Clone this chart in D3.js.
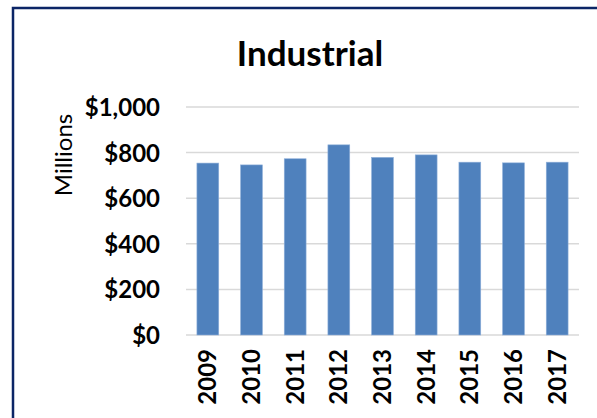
<!DOCTYPE html>
<meta charset="utf-8">
<script src="https://d3js.org/d3.v7.min.js"></script>
<style>
  body { margin: 0; background: #fff; }
  text { font-family: Lato, "Open Sans", sans-serif; fill: #000; }
</style>
<div id="chart"></div>
<script>
var years = ["2009", "2010", "2011", "2012", "2013", "2014", "2015", "2016", "2017"];
var values = [754, 746, 773, 834, 779, 790, 758, 755, 758];
var yTicks = [0, 200, 400, 600, 800, 1000];

var W = 597, H = 418;
var margin = {top: 107, right: 18, bottom: 83, left: 186};
var width = W - margin.left - margin.right,
    height = H - margin.top - margin.bottom;

var svg = d3.select("#chart").append("svg")
  .attr("width", W)
  .attr("height", H);

// frame (left + top only visible)
svg.append("path")
  .attr("d", "M13,418 V8 H597")
  .attr("fill", "none")
  .attr("stroke", "#0b2566")
  .attr("stroke-width", 2.5);

var g = svg.append("g")
  .attr("transform", "translate(" + margin.left + "," + margin.top + ")");

var x = d3.scaleBand().domain(years).range([0, width]).paddingInner(0.5).paddingOuter(0.25);
var y = d3.scaleLinear().domain([0, 1000]).range([height, 0]);

// gridlines
g.selectAll(".grid")
  .data(yTicks)
  .enter().append("line")
    .attr("x1", 0)
    .attr("x2", width)
    .attr("y1", function(d) { return y(d); })
    .attr("y2", function(d) { return y(d); })
    .attr("stroke", "#d9d9d9")
    .attr("stroke-width", 1.5);

// bars
g.selectAll(".bar")
  .data(values)
  .enter().append("rect")
    .attr("x", function(d, i) { return x(years[i]); })
    .attr("width", x.bandwidth())
    .attr("y", function(d) { return y(d); })
    .attr("height", function(d) { return y(0) - y(d); })
    .attr("fill", "#4f81bd")
    .attr("stroke", "#8fb0da")
    .attr("stroke-width", 0.6);

// y axis
var yAxis = g.append("g")
  .call(d3.axisLeft(y).tickValues(yTicks).tickSize(0).tickPadding(26)
    .tickFormat(function(d) { return "$" + d3.format(",")(d); }));
yAxis.select(".domain").remove();
yAxis.selectAll("text")
  .style("font-family", "Lato, sans-serif")
  .style("font-size", "24px")
  .style("font-weight", "bold")
  .attr("dy", "0.35em");

// x axis
var xAxis = g.append("g")
  .attr("transform", "translate(0," + height + ")")
  .call(d3.axisBottom(x).tickSize(0));
xAxis.select(".domain").remove();
xAxis.selectAll("text")
  .style("font-family", "Lato, sans-serif")
  .style("font-size", "24px")
  .style("font-weight", "bold")
  .attr("text-anchor", "end")
  .attr("transform", "rotate(-90)")
  .attr("x", -14)
  .attr("y", 0)
  .attr("dy", "0.36em");

// title
svg.append("text")
  .attr("x", 310)
  .attr("y", 66)
  .attr("text-anchor", "middle")
  .style("font-size", "35px")
  .style("font-weight", "bold")
  .text("Industrial");

// y label
svg.append("text")
  .attr("transform", "translate(72,155) rotate(-90)")
  .attr("text-anchor", "middle")
  .style("font-size", "24px")
  .text("Millions");
</script>
